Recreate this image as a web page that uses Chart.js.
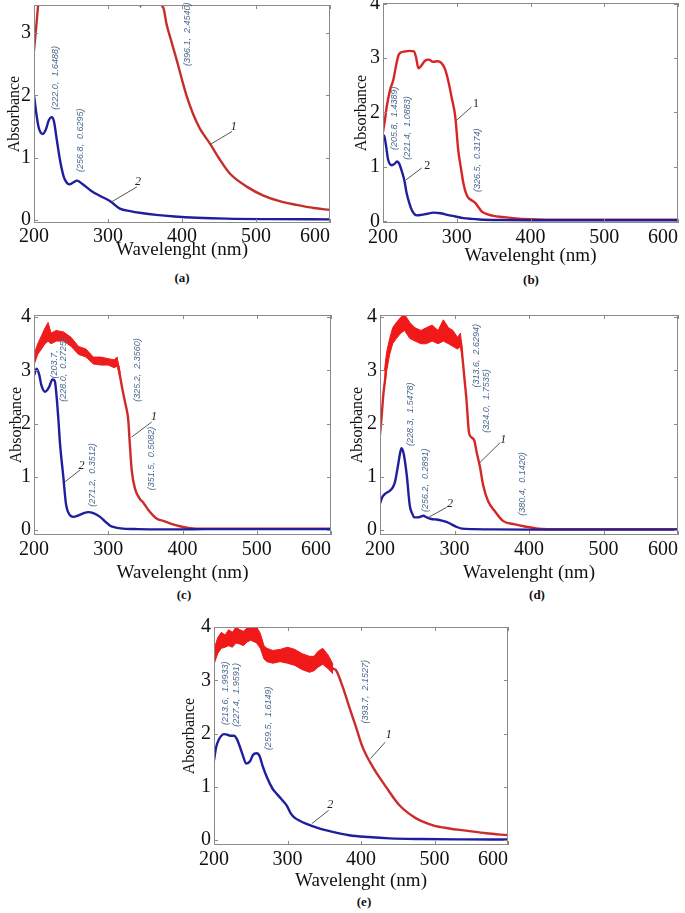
<!DOCTYPE html>
<html>
<head>
<meta charset="utf-8">
<script src="https://cdn.jsdelivr.net/npm/chart.js@4.4.1/dist/chart.umd.min.js"></script>
<style>
  html, body { margin: 0; padding: 0; background: #fff; }
  #page { position: relative; width: 685px; height: 913px; overflow: hidden; }
  .panel { position: absolute; }
  .cap { position: absolute; transform: translate(-50%, -50%); font: bold 13px "Liberation Serif", "Times New Roman", serif; color: #111; }
</style>
</head>
<body>
<div id="page">
  <canvas id="chart-a" class="panel"></canvas>
  <canvas id="chart-b" class="panel"></canvas>
  <canvas id="chart-c" class="panel"></canvas>
  <canvas id="chart-d" class="panel"></canvas>
  <canvas id="chart-e" class="panel"></canvas>
  <div class="cap" style="left:182px;top:278px">(a)</div>
  <div class="cap" style="left:531px;top:280px">(b)</div>
  <div class="cap" style="left:184px;top:595px">(c)</div>
  <div class="cap" style="left:537px;top:595px">(d)</div>
  <div class="cap" style="left:364px;top:902px">(e)</div>
</div>
<script>
/* tick labels
# ------------------------------------------------------------------------------------------------
*/
const xTicks = [200, 300, 400, 500, 600];
const yTicksA = [0, 1, 2, 3];
const yTicks = [0, 1, 2, 3, 4];

/* panel (a)
# ------------------------------------------------------------------------------------------------
*/
const aBlueX = [200, 203, 206, 209, 212, 216, 220, 224, 227, 231, 235, 240, 244, 248, 253, 258, 265, 278, 290, 303, 316, 330, 345, 365, 390, 420, 460, 520, 600];
const aBlueY = [2.00, 1.72, 1.50, 1.40, 1.38, 1.45, 1.60, 1.65, 1.58, 1.27, 0.97, 0.70, 0.60, 0.57, 0.60, 0.63, 0.58, 0.46, 0.38, 0.30, 0.18, 0.14, 0.11, 0.08, 0.055, 0.035, 0.02, 0.012, 0.008];
const aRedX = [200, 203, 206, 210, 340, 344, 346, 350, 370, 373, 375, 379, 386, 393, 400, 406, 415, 424, 438, 450, 465, 488, 510, 532, 555, 578, 600];
const aRedY = [2.72, 3.10, 3.50, 3.90, 3.90, 3.42, 3.90, 3.90, 3.90, 3.45, 3.40, 3.15, 2.85, 2.56, 2.25, 2.00, 1.70, 1.47, 1.22, 0.99, 0.74, 0.53, 0.39, 0.30, 0.24, 0.19, 0.16];
const aNotes = [[229.7, 1.77, '(222.0,  1.6488)'], [263.5, 0.77, '(256.8,  0.6295)'], [406.8, 2.47, '(396.1,  2.4540)']];
const aLeaders = [[438, 1.21, 467.6, 1.42], [305, 0.29, 339, 0.53]];
const aMarks = [[470, 1.5, '1'], [340.5, 0.61, '2']];

/* panel (b)
# ------------------------------------------------------------------------------------------------
*/
const bBlueX = [200, 201.5, 204, 207, 212, 216, 219, 222, 225, 229, 232, 236, 239, 243, 246, 252, 260, 268, 278, 287, 298, 309, 320, 331, 360, 400, 500, 600];
const bBlueY = [1.50, 1.58, 1.40, 1.13, 1.03, 1.06, 1.10, 1.06, 0.94, 0.75, 0.52, 0.32, 0.21, 0.13, 0.11, 0.12, 0.14, 0.16, 0.15, 0.12, 0.09, 0.06, 0.045, 0.035, 0.025, 0.02, 0.02, 0.02];
const bRedX = [200, 203, 205, 209.5, 214, 218, 221, 224, 230, 236, 242, 245, 248, 252, 257, 262, 268, 274, 279, 284, 289, 293, 298, 302, 306, 309, 313, 316, 321, 325, 330, 334, 342, 350, 362, 376, 400, 450, 600];
const bRedY = [1.64, 1.90, 2.10, 2.41, 2.60, 2.88, 3.05, 3.10, 3.12, 3.13, 3.12, 3.00, 2.81, 2.86, 2.95, 2.97, 2.93, 2.94, 2.91, 2.80, 2.55, 2.28, 1.92, 1.31, 0.95, 0.70, 0.50, 0.43, 0.38, 0.34, 0.25, 0.18, 0.13, 0.10, 0.08, 0.06, 0.04, 0.03, 0.03];
const bNotes = [[215, 1.31, '(205.8,  1.4389)'], [233, 1.13, '(221.4,  1.0883)'], [327.5, 0.54, '(326.5,  0.3174)']];
const bLeaders = [[300, 1.86, 320, 2.1], [231, 0.76, 252.5, 0.98]];
const bMarks = [[326, 2.15, '1'], [260, 1.02, '2']];

/* panel (c)
# ------------------------------------------------------------------------------------------------
*/
const cBlueX = [200, 203.6, 207, 210, 215, 220, 225, 228, 230.5, 233, 235, 239.5, 243, 248.5, 253, 260, 267, 273, 280, 289, 296, 302, 310, 320, 340, 370, 400, 430, 600];
const cBlueY = [2.91, 3.03, 2.92, 2.72, 2.60, 2.68, 2.83, 2.80, 2.50, 2.05, 1.63, 1.00, 0.50, 0.28, 0.25, 0.28, 0.32, 0.34, 0.32, 0.25, 0.16, 0.09, 0.05, 0.03, 0.02, 0.015, 0.015, 0.02, 0.02];
const cRedX = [200, 205, 210, 215, 219, 223, 230, 240, 250, 260, 270, 280, 290, 300, 308, 312, 316, 319, 322.5, 325, 327, 329, 331.6, 336, 343, 347, 354, 365, 375, 383, 392, 401, 410, 430, 600];
const cRedY = [3.20, 3.40, 3.52, 3.65, 3.70, 3.60, 3.65, 3.63, 3.53, 3.38, 3.32, 3.18, 3.17, 3.16, 3.12, 3.15, 2.88, 2.65, 2.41, 2.25, 2.06, 1.63, 1.13, 0.78, 0.58, 0.52, 0.38, 0.22, 0.17, 0.13, 0.09, 0.06, 0.04, 0.03, 0.03];
const cBandX = [200, 205, 210, 215, 219, 223, 230, 240, 250, 260, 270, 280, 290, 300, 308, 312, 316];
const cBandHi = [3.30, 3.50, 3.65, 3.80, 3.90, 3.70, 3.75, 3.72, 3.62, 3.45, 3.40, 3.25, 3.25, 3.22, 3.20, 3.25, 2.95];
const cBandLo = [3.10, 3.30, 3.40, 3.50, 3.55, 3.50, 3.55, 3.55, 3.45, 3.30, 3.25, 3.12, 3.10, 3.10, 3.05, 3.08, 2.85];
const cNotes = [[227, 2.85, '(203.7,'], [239.7, 2.41, '(228.0,  0.2725)'], [339.4, 2.41, '(325.2,  2.3560)'], [357.6, 0.75, '(351.5,  0.5082)'], [278.8, 0.44, '(271.2,  0.3512)']];
const cLeaders = [[331.6, 1.75, 358.5, 2.03], [241.8, 0.91, 262, 1.13]];
const cMarks = [[361.6, 2.12, '1'], [264, 1.2, '2']];

/* panel (d)
# ------------------------------------------------------------------------------------------------
*/
const dBlueX = [200, 203, 206.7, 213, 217, 220, 224, 227, 229, 232, 236, 240, 243, 246, 250, 254, 258, 263, 269, 276, 283, 290, 296, 303, 310, 325, 350, 400, 600];
const dBlueY = [0.50, 0.62, 0.68, 0.74, 0.80, 0.90, 1.20, 1.45, 1.54, 1.42, 1.02, 0.46, 0.32, 0.24, 0.24, 0.25, 0.27, 0.24, 0.21, 0.20, 0.18, 0.15, 0.11, 0.06, 0.03, 0.02, 0.015, 0.01, 0.01];
const dRedX = [200, 202, 204.5, 207, 209, 213, 217, 222, 228, 233, 240, 247, 255, 262, 270, 278, 285, 292, 298, 304, 308, 310.5, 313, 316, 319.5, 323, 326.6, 329.8, 334, 338.7, 345, 354, 365.5, 381, 394.6, 412.5, 440, 600];
const dRedY = [1.80, 2.10, 2.55, 2.85, 3.18, 3.45, 3.65, 3.75, 3.85, 3.90, 3.75, 3.68, 3.62, 3.65, 3.70, 3.62, 3.75, 3.65, 3.60, 3.50, 3.57, 3.27, 2.90, 2.46, 1.83, 1.74, 1.68, 1.46, 1.20, 0.83, 0.55, 0.36, 0.17, 0.11, 0.07, 0.03, 0.02, 0.02];
const dBandX = [206, 209, 213, 217, 222, 228, 233, 240, 247, 255, 262, 270, 278, 285, 292, 298, 304, 308, 310.5];
const dBandHi = [3.00, 3.35, 3.60, 3.80, 3.90, 4.00, 4.05, 3.90, 3.80, 3.75, 3.80, 3.85, 3.75, 3.95, 3.80, 3.75, 3.62, 3.70, 3.35];
const dBandLo = [2.70, 3.00, 3.30, 3.50, 3.60, 3.70, 3.75, 3.60, 3.55, 3.50, 3.50, 3.55, 3.50, 3.55, 3.50, 3.45, 3.40, 3.45, 3.25];
const dNotes = [[241.6, 1.58, '(228.3,  1.5478)'], [261.7, 0.34, '(256.2,  0.2891)'], [328.9, 2.68, '(313.6,  2.6294)'], [342.3, 1.83, '(324.0,  1.7535)'], [391, 0.27, '(380.4,  0.1420)']];
const dLeaders = [[334, 1.27, 361, 1.64], [265, 0.24, 289.5, 0.43]];
const dMarks = [[365.5, 1.69, '1'], [294, 0.49, '2']];

/* panel (e)
# ------------------------------------------------------------------------------------------------
*/
const eBlueX = [200, 203, 207, 210, 213.6, 218, 222, 227.4, 231, 234, 239, 244, 249, 253, 258, 262, 266, 272, 279.5, 286, 293, 299, 304.6, 310, 316, 325, 343, 360, 384, 410, 439, 480, 540, 600];
const eBlueY = [1.50, 1.75, 1.90, 1.96, 1.99, 1.98, 1.96, 1.96, 1.90, 1.80, 1.60, 1.44, 1.48, 1.60, 1.63, 1.58, 1.40, 1.18, 0.97, 0.86, 0.75, 0.65, 0.50, 0.42, 0.37, 0.31, 0.22, 0.16, 0.094, 0.06, 0.035, 0.022, 0.015, 0.012];
const eRedX = [200, 205, 210, 220, 230, 240, 250, 258, 263, 268, 275, 290, 300, 310, 320, 330, 340, 348, 355, 362, 366, 375, 384, 393, 402, 416, 434, 452, 475, 498, 520, 543, 570, 600];
const eRedY = [3.45, 3.65, 3.75, 3.80, 3.85, 3.80, 3.90, 3.88, 3.75, 3.52, 3.45, 3.45, 3.47, 3.42, 3.35, 3.30, 3.40, 3.45, 3.35, 3.22, 3.19, 2.88, 2.50, 2.13, 1.75, 1.375, 1.00, 0.66, 0.41, 0.28, 0.22, 0.18, 0.13, 0.094];
const eBandX = [200, 205, 210, 215, 220, 225, 230, 235, 240, 245, 250, 255, 258, 263, 268, 272, 280, 290, 300, 310, 320, 330, 336, 342, 348, 355, 362];
const eBandHi = [3.58, 3.80, 3.90, 3.85, 3.95, 3.90, 4.00, 3.95, 3.92, 3.98, 4.05, 4.05, 4.00, 3.88, 3.65, 3.60, 3.56, 3.58, 3.62, 3.58, 3.50, 3.45, 3.45, 3.55, 3.60, 3.48, 3.30];
const eBandLo = [3.30, 3.50, 3.60, 3.62, 3.65, 3.62, 3.70, 3.68, 3.65, 3.72, 3.75, 3.72, 3.70, 3.60, 3.40, 3.35, 3.32, 3.35, 3.32, 3.28, 3.20, 3.15, 3.18, 3.25, 3.30, 3.22, 3.12];
const eNotes = [[215, 2.16, '(213.6,  1.9933)'], [231, 2.13, '(227.4,  1.9591)'], [273.7, 1.69, '(259.5,  1.6149)'], [406, 2.19, '(393.7,  2.1527)']];
const eLeaders = [[412.8, 1.53, 433, 1.84], [333, 0.31, 356, 0.56]];
const eMarks = [[437.8, 1.97, '1'], [358, 0.66, '2']];

/* drawing
# ------------------------------------------------------------------------------------------------
*/
const SERIF = '"Liberation Serif", "Times New Roman", serif';
const BLUE = '#1f1f9e';

function pts(xs, ys) {
  return xs.map((x, i) => ({ x: x, y: ys[i] }));
}

// frame, inward tick marks, rotated peak labels and curve numbers
const framePlugin = {
  id: 'frame',
  afterDatasetsDraw(chart, args, opts) {
    const { ctx, chartArea: a, scales: { x, y } } = chart;
    ctx.save();
    ctx.strokeStyle = '#8a8a8a';
    ctx.lineWidth = 1;
    ctx.strokeRect(a.left + 0.5, a.top + 0.5, a.right - a.left - 1, a.bottom - a.top - 1);
    ctx.beginPath();
    x.ticks.forEach(t => {
      const px = Math.round(x.getPixelForValue(t.value)) + 0.5;
      ctx.moveTo(px, a.bottom); ctx.lineTo(px, a.bottom - 4);
      ctx.moveTo(px, a.top); ctx.lineTo(px, a.top + 4);
    });
    y.ticks.forEach(t => {
      const py = Math.round(y.getPixelForValue(t.value)) + 0.5;
      ctx.moveTo(a.left, py); ctx.lineTo(a.left + 4, py);
      ctx.moveTo(a.right, py); ctx.lineTo(a.right - 4, py);
    });
    ctx.stroke();

    ctx.strokeStyle = '#555';
    ctx.beginPath();
    (opts.leaders || []).forEach(l => {
      ctx.moveTo(x.getPixelForValue(l[0]), y.getPixelForValue(l[1]));
      ctx.lineTo(x.getPixelForValue(l[2]), y.getPixelForValue(l[3]));
    });
    ctx.stroke();

    ctx.fillStyle = '#4a6890';
    ctx.font = 'italic 9px "Liberation Sans", Arial, sans-serif';
    ctx.textAlign = 'left';
    ctx.textBaseline = 'middle';
    (opts.notes || []).forEach(n => {
      ctx.save();
      ctx.translate(x.getPixelForValue(n[0]), y.getPixelForValue(n[1]));
      ctx.rotate(-Math.PI / 2);
      ctx.fillText(n[2], 0, 0);
      ctx.restore();
    });

    ctx.fillStyle = '#222';
    ctx.font = (opts.upright ? '' : 'italic ') + '12px ' + SERIF;
    ctx.textAlign = 'center';
    (opts.marks || []).forEach(m => {
      ctx.fillText(m[2], x.getPixelForValue(m[0]), y.getPixelForValue(m[1]));
    });
    ctx.restore();
  }
};

function panel(id, o) {
  const el = document.getElementById(id);
  el.width = o.w;
  el.height = o.h;
  el.style.left = o.left + 'px';
  el.style.top = o.top + 'px';

  const datasets = [
    { data: pts(o.blueX, o.blueY), borderColor: BLUE, borderWidth: 2.4, cubicInterpolationMode: 'monotone', clip: 0 }
  ];
  if (o.bandX) {
    datasets.push({ data: pts(o.bandX, o.bandHi), borderColor: o.band, borderWidth: 1, tension: 0, clip: 0 });
    datasets.push({ data: pts(o.bandX, o.bandLo), borderColor: o.band, borderWidth: 1, tension: 0, clip: 0, fill: '-1', backgroundColor: o.band });
  }
  datasets.push({ data: pts(o.redX, o.redY), borderColor: o.red, borderWidth: 2.4, cubicInterpolationMode: 'monotone', clip: 0 });

  return new Chart(el, {
    type: 'line',
    data: { datasets: datasets },
    plugins: [framePlugin],
    options: {
      responsive: false,
      animation: false,
      events: [],
      layout: { padding: { top: o.padTop, right: o.padRight, left: 0, bottom: 0 } },
      elements: { point: { radius: 0 } },
      plugins: {
        legend: { display: false },
        tooltip: { enabled: false },
        frame: { notes: o.notes, leaders: o.leaders, marks: o.marks, upright: o.upright }
      },
      scales: {
        x: {
          type: 'linear', min: 200, max: 600,
          grid: { display: false, drawTicks: false }, border: { display: false },
          afterBuildTicks: s => { s.ticks = xTicks.map(v => ({ value: v })); },
          afterFit: s => { s.height = o.xH; s.paddingLeft = 0; s.paddingRight = 0; },
          ticks: {
            autoSkip: false, maxRotation: 0, minRotation: 0, padding: o.xPad, color: '#111',
            font: { family: SERIF, size: 20, lineHeight: 1 },
            callback: v => v === 600 ? '600' + '\u00a0'.repeat(6) : String(v)
          },
          title: { display: true, text: 'Wavelenght (nm)', color: '#111', padding: 0,
                   font: { family: SERIF, size: 19, lineHeight: 1 } }
        },
        y: {
          type: 'linear', min: o.yMin, max: o.yMax,
          grid: { display: false, drawTicks: false }, border: { display: false },
          afterBuildTicks: s => { s.ticks = o.yTicks.map(v => ({ value: v })); },
          afterFit: s => { s.width = o.yW; s.paddingTop = 0; s.paddingBottom = 0; },
          ticks: { padding: 3, color: '#111', font: { family: SERIF, size: 20, lineHeight: 1 } },
          title: { display: true, text: 'Absorbance', color: '#111', padding: { top: o.yTitlePad, bottom: 0 },
                   font: { family: SERIF, size: 16, lineHeight: 1 } }
        }
      }
    }
  });
}

panel('chart-a', {
  left: 0, top: 0, w: 342, h: 260, padTop: 5, padRight: 12, yW: 34, xH: 37, xPad: 4, yTitlePad: 7,
  yMin: -0.05, yMax: 3.45, yTicks: yTicksA,
  blueX: aBlueX, blueY: aBlueY, redX: aRedX, redY: aRedY, red: '#c3302c',
  notes: aNotes, leaders: aLeaders, marks: aMarks
});

panel('chart-b', {
  left: 345, top: 0, w: 340, h: 266, padTop: 3, padRight: 7, yW: 38, xH: 43, xPad: 5, yTitlePad: 9,
  yMin: -0.03, yMax: 4.01, yTicks: yTicks,
  blueX: bBlueX, blueY: bBlueY, redX: bRedX, redY: bRedY, red: '#d82424',
  notes: bNotes, leaders: bLeaders, marks: bMarks, upright: true
});

panel('chart-c', {
  left: 0, top: 300, w: 343, h: 283, padTop: 15, padRight: 12, yW: 34, xH: 48, xPad: 5, yTitlePad: 9,
  yMin: -0.09, yMax: 4.04, yTicks: yTicks,
  blueX: cBlueX, blueY: cBlueY, redX: cRedX, redY: cRedY, red: '#cc2c2c',
  bandX: cBandX, bandHi: cBandHi, bandLo: cBandLo, band: '#ee1c1c',
  notes: cNotes, leaders: cLeaders, marks: cMarks
});

panel('chart-d', {
  left: 343, top: 300, w: 342, h: 283, padTop: 15, padRight: 7, yW: 37, xH: 48, xPad: 5, yTitlePad: 7,
  yMin: -0.09, yMax: 4.04, yTicks: yTicks,
  blueX: dBlueX, blueY: dBlueY, redX: dRedX, redY: dRedY, red: '#d42828',
  bandX: dBandX, bandHi: dBandHi, bandLo: dBandLo, band: '#f01818',
  notes: dNotes, leaders: dLeaders, marks: dMarks
});

panel('chart-e', {
  left: 170, top: 610, w: 350, h: 281, padTop: 17, padRight: 12, yW: 44, xH: 46, xPad: 5, yTitlePad: 12,
  yMin: -0.09, yMax: 4.0, yTicks: yTicks,
  blueX: eBlueX, blueY: eBlueY, redX: eRedX, redY: eRedY, red: '#cc2c2c',
  bandX: eBandX, bandHi: eBandHi, bandLo: eBandLo, band: '#f01818',
  notes: eNotes, leaders: eLeaders, marks: eMarks
});
</script>
</body>
</html>
